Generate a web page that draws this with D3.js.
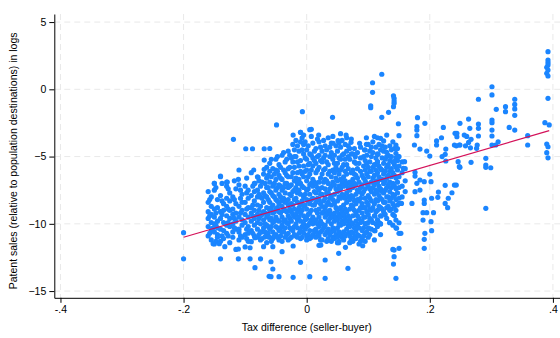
<!DOCTYPE html>
<html>
<head>
<meta charset="utf-8">
<script src="https://cdn.jsdelivr.net/npm/d3@7"></script>
<style>
  html, body { margin: 0; padding: 0; background: #ffffff; }
  svg { display: block; font-family: "Liberation Sans", Arial, sans-serif; }
</style>
</head>
<body>
<svg id="chart" width="560" height="338"></svg>
<script>
// Axis ticks
const xTicks = [-0.4, -0.2, 0, 0.2, 0.4];
const xTickLabels = ["-.4", "-.2", "0", ".2", ".4"];
const yTicks = [-15, -10, -5, 0, 5];

// Linear fit of log patent sales on tax difference
const fitIntercept = -8.33;
const fitSlope = 13.34;

// Dense core: tax difference, then log patent sales observed at that difference
const coreColumns = [
  [-0.160, [-7.6, -8.4, -9.1, -9.6, -10.2, -10.9]],
  [-0.1575, [-8.2, -9.4, -10.7]],
  [-0.155, [-8.0, -8.7, -9.3, -9.9, -10.5, -11.2]],
  [-0.150, [-7.0, -7.5, -8.9, -9.5, -10.0, -10.6, -11.5]],
  [-0.1475, [-7.3, -9.2, -10.1, -11.3]],
  [-0.145, [-8.2, -8.8, -9.8, -10.3, -10.8, -11.0]],
  [-0.140, [-6.5, -7.9, -9.1, -9.6, -10.4, -11.3]],
  [-0.1375, [-7.0, -8.3, -9.3, -10.9]],
  [-0.135, [-8.5, -9.0, -9.9, -10.5, -11.1]],
  [-0.130, [-6.9, -7.2, -8.1, -8.7, -9.4, -10.1, -10.7]],
  [-0.1275, [-7.4, -8.9, -9.9, -10.9]],
  [-0.125, [-7.7, -8.3, -9.0, -9.6, -10.2, -11.4]],
  [-0.120, [-8.0, -8.9, -9.3, -10.0, -10.6, -11.0]],
  [-0.1175, [-6.8, -8.2, -9.6, -10.3]],
  [-0.115, [-7.4, -8.5, -9.2, -9.8, -10.4, -11.9]],
  [-0.110, [-7.1, -8.7, -9.5, -10.4, -10.6, -11.2]],
  [-0.1075, [-7.5, -8.1, -9.2, -10.9]],
  [-0.105, [-7.8, -8.4, -9.0, -9.7, -10.1, -11.0]],
  [-0.100, [-7.2, -8.4, -9.3, -9.9, -10.8]],
  [-0.0975, [-6.6, -7.7, -8.9, -10.4, -11.1]],
  [-0.095, [-7.5, -8.1, -8.8, -9.5, -10.2, -10.7, -11.3]],
  [-0.090, [-6.2, -7.9, -8.8, -9.2, -9.8, -10.5]],
  [-0.0875, [-7.2, -8.6, -9.4, -10.7]],
  [-0.085, [-7.0, -7.6, -8.3, -9.0, -9.6, -10.1, -10.9]],
  [-0.080, [-6.5, -7.5, -8.0, -8.6, -9.3, -9.9, -10.4, -11.0]],
  [-0.0775, [-6.8, -7.8, -9.0, -9.6, -10.8]],
  [-0.075, [-7.2, -8.0, -8.7, -9.4, -10.0, -10.6, -11.2]],
  [-0.0725, [-6.9, -8.1, -9.3, -10.6, -11.1]],
  [-0.070, [-6.3, -7.7, -8.4, -9.1, -9.7, -10.3]],
  [-0.0675, [-7.0, -7.9, -9.2, -10.0, -10.6]],
  [-0.065, [-5.8, -6.6, -7.3, -8.0, -8.8, -9.5, -10.1, -10.8, -11.4]],
  [-0.0625, [-6.4, -7.3, -8.2, -9.3, -10.2, -10.7]],
  [-0.060, [-5.5, -6.1, -6.9, -7.6, -8.4, -9.0, -9.7, -10.4, -11.0]],
  [-0.0575, [-5.2, -6.5, -7.7, -8.8, -9.6, -10.2, -11.3]],
  [-0.055, [-5.9, -7.2, -7.9, -8.6, -9.2, -9.9, -10.6, -11.1]],
  [-0.0525, [-6.3, -7.0, -8.0, -9.1, -9.8, -10.9]],
  [-0.050, [-5.2, -6.0, -6.7, -7.5, -8.2, -8.9, -9.5, -10.2, -10.8]],
  [-0.0475, [-5.0, -6.1, -7.3, -8.3, -8.8, -9.7, -10.3, -11.0]],
  [-0.045, [-5.6, -6.4, -7.1, -7.8, -8.5, -9.1, -9.8, -10.5, -11.2]],
  [-0.0425, [-5.8, -6.6, -7.2, -8.0, -9.2, -10.3, -10.9]],
  [-0.040, [-4.9, -6.7, -7.5, -8.3, -8.7, -9.5, -10.1, -10.6, -11.3]],
  [-0.0375, [-4.7, -6.0, -7.3, -8.1, -9.0, -9.8, -10.6]],
  [-0.035, [-5.4, -6.2, -7.0, -7.7, -8.4, -9.0, -9.7, -10.3, -11.0]],
  [-0.0325, [-5.2, -6.4, -7.0, -8.3, -9.1, -9.9, -10.8]],
  [-0.030, [-4.6, -5.9, -6.5, -7.3, -8.2, -8.6, -9.4, -10.0, -10.7, -11.2]],
  [-0.0275, [-4.9, -5.8, -7.2, -7.8, -8.9, -9.6, -10.3, -11.1]],
  [-0.025, [-5.1, -6.5, -7.1, -7.9, -8.5, -9.1, -9.8, -10.4, -11.0]],
  [-0.0225, [-4.1, -5.4, -6.2, -7.6, -8.6, -9.3, -10.5]],
  [-0.020, [-4.5, -5.0, -5.8, -6.8, -7.5, -8.2, -8.9, -9.5, -10.2, -10.8]],
  [-0.0175, [-3.8, -5.0, -6.6, -7.3, -8.1, -9.3, -10.0, -10.9]],
  [-0.015, [-4.2, -5.4, -6.2, -7.0, -7.7, -8.4, -9.0, -9.7, -10.3, -11.0]],
  [-0.0125, [-4.6, -5.7, -6.7, -7.5, -8.8, -9.5, -10.7]],
  [-0.010, [-3.2, -3.9, -5.3, -6.1, -7.0, -7.8, -8.5, -9.2, -9.8, -10.5, -11.1]],
  [-0.0075, [-3.6, -4.5, -6.3, -7.2, -8.3, -9.0, -10.2, -11.0]],
  [-0.005, [-3.4, -4.1, -4.8, -5.7, -6.5, -7.3, -8.0, -8.7, -9.4, -10.0, -10.7]],
  [-0.0025, [-3.9, -5.1, -6.1, -7.8, -8.6, -9.7, -10.4]],
  [0.000, [-4.5, -5.2, -6.0, -6.8, -7.5, -8.2, -8.9, -9.6, -10.2, -10.9, -11.2]],
  [0.0025, [-4.2, -5.6, -6.5, -7.4, -8.3, -9.3, -10.1, -10.8]],
  [0.005, [-4.8, -5.5, -6.3, -7.1, -7.8, -8.5, -9.2, -9.9, -10.5, -11.1]],
  [0.0075, [-3.5, -4.9, -6.0, -7.0, -8.2, -9.0, -9.7, -11.0]],
  [0.010, [-4.0, -5.1, -5.7, -6.7, -7.2, -8.1, -8.6, -9.5, -10.0, -10.8]],
  [0.0125, [-4.6, -5.3, -6.9, -7.6, -8.6, -9.8, -10.5]],
  [0.015, [-4.4, -5.5, -6.2, -7.0, -7.7, -8.4, -9.0, -9.7, -10.4, -11.0]],
  [0.0175, [-3.7, -5.0, -6.0, -7.3, -8.1, -9.2, -10.0, -10.7]],
  [0.020, [-3.9, -4.9, -5.8, -6.9, -7.5, -8.2, -8.9, -9.5, -10.2, -10.9]],
  [0.0225, [-4.3, -5.3, -6.6, -7.8, -8.5, -9.8, -10.6, -11.2]],
  [0.025, [-4.6, -5.4, -6.3, -7.3, -7.8, -8.7, -9.2, -10.0, -10.5, -11.2]],
  [0.0275, [-3.8, -5.1, -6.0, -6.9, -8.3, -9.1, -10.3]],
  [0.030, [-4.2, -4.9, -5.9, -6.7, -7.4, -8.1, -8.8, -9.5, -10.1, -10.8]],
  [0.0325, [-4.5, -5.4, -6.8, -7.7, -8.6, -9.3, -10.6, -11.3]],
  [0.035, [-3.6, -5.6, -6.3, -7.0, -7.7, -8.4, -9.1, -9.8, -10.4, -11.1]],
  [0.0375, [-4.3, -5.0, -6.1, -7.4, -8.1, -9.0, -9.6, -10.8]],
  [0.040, [-4.0, -4.7, -6.5, -7.2, -7.9, -8.6, -9.3, -10.0, -10.6, -11.3]],
  [0.0425, [-3.5, -5.2, -6.0, -6.9, -8.2, -9.5, -10.3, -11.0]],
  [0.045, [-4.9, -5.5, -6.2, -7.1, -7.8, -8.5, -9.2, -9.8, -10.5, -11.1]],
  [0.0475, [-4.2, -5.8, -6.6, -7.4, -8.8, -9.5, -10.8]],
  [0.050, [-4.6, -5.5, -6.0, -6.8, -7.6, -8.3, -9.0, -9.7, -10.3, -11.0]],
  [0.0525, [-4.0, -5.1, -6.3, -7.2, -8.0, -9.3, -10.0, -10.6, -11.3]],
  [0.055, [-3.3, -4.3, -5.2, -6.0, -6.7, -7.4, -8.1, -8.8, -9.5, -10.1, -10.8]],
  [0.0575, [-3.8, -4.9, -5.8, -7.0, -7.8, -9.1, -9.8, -11.0]],
  [0.060, [-4.8, -5.6, -6.5, -7.2, -7.9, -8.6, -9.3, -10.0, -10.6, -11.2]],
  [0.0625, [-4.1, -5.2, -6.1, -6.8, -8.1, -8.9, -9.6, -10.9]],
  [0.065, [-3.6, -4.6, -5.6, -6.3, -7.0, -7.7, -8.4, -9.1, -9.8, -10.4]],
  [0.0675, [-4.2, -5.0, -5.9, -7.3, -8.0, -9.4, -10.1, -10.7]],
  [0.070, [-4.4, -5.2, -6.9, -7.5, -8.2, -8.9, -9.6, -10.2, -10.9, -11.4]],
  [0.0725, [-3.7, -4.8, -6.2, -7.1, -7.9, -8.6, -9.9, -10.6, -11.2]],
  [0.075, [-4.8, -6.0, -6.7, -7.3, -8.0, -8.7, -9.4, -10.0, -10.7, -11.3]],
  [0.0775, [-4.4, -5.4, -6.3, -7.0, -8.3, -9.0, -10.3, -11.0]],
  [0.080, [-5.5, -6.4, -7.1, -7.8, -8.5, -9.2, -9.8, -10.5, -11.1]],
  [0.0825, [-4.7, -5.9, -6.6, -7.5, -8.2, -9.4, -10.1, -10.8]],
  [0.085, [-5.5, -6.9, -7.6, -8.3, -9.0, -9.6, -10.3, -10.9, -11.5]],
  [0.0875, [-4.3, -5.1, -6.1, -7.3, -8.1, -8.8, -9.9, -11.3]],
  [0.090, [-6.4, -7.1, -7.8, -8.5, -9.2, -9.8, -10.5, -11.1]],
  [0.0925, [-5.0, -5.7, -6.6, -7.6, -8.8, -9.5, -10.3, -10.9]],
  [0.095, [-4.5, -5.3, -6.0, -6.8, -7.4, -8.1, -8.8, -9.5, -10.0, -10.7, -11.3]],
  [0.0975, [-4.9, -5.5, -6.3, -7.0, -8.4, -9.1, -10.6]],
  [0.100, [-4.1, -5.8, -6.5, -7.2, -7.9, -8.6, -9.3, -9.9, -10.3, -11.0]],
  [0.1025, [-4.6, -5.4, -6.1, -7.4, -8.1, -8.9, -9.6, -10.8]],
  [0.105, [-4.3, -5.0, -6.1, -6.9, -7.6, -8.3, -9.0, -9.7, -10.4]],
  [0.1075, [-3.9, -4.7, -5.8, -6.6, -7.3, -8.8, -9.9]],
  [0.110, [-3.5, -5.6, -6.4, -7.1, -7.8, -8.5, -9.4, -10.5, -11.2]],
  [0.1125, [-4.3, -5.1, -6.0, -6.8, -7.5, -8.2, -9.1, -10.0]],
  [0.115, [-3.6, -4.8, -5.4, -6.2, -6.9, -7.6, -8.3, -9.0, -9.7, -10.2]],
  [0.1175, [-4.1, -5.7, -6.5, -7.2, -7.9, -8.7, -9.9]],
  [0.120, [-4.5, -5.9, -6.7, -7.4, -8.1, -8.8, -9.4, -10.0, -10.8]],
  [0.1225, [-4.2, -5.1, -6.0, -6.7, -7.6, -8.2, -8.9]],
  [0.125, [-3.84, -4.6, -5.5, -6.3, -7.0, -7.7, -8.4, -9.1]],
  [0.1275, [-4.3, -5.2, -6.1, -6.8, -7.5, -8.4, -9.3]],
  [0.130, [-3.4, -4.68, -5.0, -5.8, -6.6, -7.3, -8.0, -8.8, -9.6]],
  [0.1325, [-4.9, -5.6, -6.4, -7.1, -8.0, -8.7]],
  [0.135, [-4.2, -5.3, -6.1, -6.9, -7.6, -8.3, -9.0, -9.9]],
  [0.1375, [-4.5, -5.0, -5.9, -6.5, -7.3, -8.1, -8.9]],
  [0.140, [-3.9, -5.4, -6.2, -7.0, -7.8, -8.5, -9.3, -10.1]],
  [0.1425, [-4.4, -5.6, -6.4, -7.2, -7.9, -8.7, -9.4]],
  [0.145, [-4.14, -5.1, -5.8, -6.6, -7.4, -8.2, -9.0, -9.72, -10.3]],
  [0.1475, [-4.4, -5.3, -6.0, -6.9, -7.7, -8.6]],
  [0.150, [-3.45, -5.0, -5.7, -6.5, -7.3, -8.1, -8.48, -9.92, -10.71, -11.82]],
  [0.155, [-5.4, -6.2, -7.2, -8.0]],
  [0.160, [-5.9, -6.8, -7.6]]
];

// Scattered observations above the core
const upperPoints = [
  [-0.119, -3.72], [-0.099, -4.42], [-0.088, -4.42], [-0.069, -4.42], [-0.069, -5.26],
  [-0.069, -5.95], [-0.110, -6.0], [-0.086, -6.0], [-0.140, -6.45], [-0.111, -6.69],
  [-0.129, -6.89], [-0.150, -6.99], [-0.079, -6.54], [-0.084, -6.99], [-0.060, -4.4],
  [-0.049, -2.65], [-0.007, -1.66], [0.042, -2.08], [-0.022, -3.4], [0.0075, -2.97],
  [0.0195, -3.4], [0.064, -3.4], [0.051, -3.82], [0.043, -4.01], [0.072, -3.94],
  [0.086, -4.01], [0.094, -4.51], [0.079, -5.01], [-0.010, -3.2], [0.005, -3.0],
  [0.122, 1.12], [0.107, 0.49], [0.107, -0.22], [0.104, -1.22], [0.104, -1.37],
  [0.141, -0.48], [0.142, -0.67], [0.142, -0.87], [0.142, -1.04], [0.141, -1.29],
  [0.133, -1.71], [0.122, -2.08], [0.149, -2.56], [0.097, -3.6], [0.097, -4.09],
  [0.116, -4.83], [0.145, -4.76], [0.149, -5.01], [0.142, -5.38], [0.159, -5.38],
  [0.157, -5.87], [0.115, -5.38], [0.111, -5.63], [0.176, -6.17], [0.120, -3.64]
];

// Scattered observations below the core
const lowerPoints = [
  [-0.200, -10.66], [-0.200, -12.6], [-0.153, -10.33], [-0.152, -11.48], [-0.142, -11.48],
  [-0.133, -11.7], [-0.140, -12.6], [-0.111, -12.6], [-0.092, -12.6], [-0.075, -12.6],
  [-0.084, -13.26], [-0.061, -13.9], [-0.111, -11.87], [-0.100, -11.72], [-0.092, -11.78],
  [-0.090, -11.33], [-0.070, -11.7], [-0.084, -11.03], [-0.068, -10.98], [-0.062, -10.98],
  [-0.058, -12.82], [-0.055, -13.36], [-0.058, -13.93], [-0.045, -13.93], [-0.022, -13.98],
  [-0.010, -12.86], [0.005, -13.93], [0.030, -14.05], [0.030, -12.69], [0.052, -12.19],
  [0.067, -13.31], [0.063, -11.75], [0.052, -11.4], [0.023, -11.58], [0.091, -11.63],
  [-0.055, -11.7], [-0.040, -12.07], [-0.022, -11.65], [0.020, -11.6], [0.050, -11.4],
  [0.153, -10.71], [0.146, -10.33], [0.135, -9.92], [0.120, -10.01], [0.111, -10.51],
  [0.101, -10.33], [0.142, -11.95], [0.142, -12.44], [0.141, -12.99], [0.145, -14.05],
  [0.121, -9.42], [0.111, -9.42], [0.097, -9.96], [0.140, -11.9]
];

// Observations with large tax differences
const rightPoints = [
  [0.180, -2.11], [0.179, -2.78], [0.179, -3.03], [0.179, -3.45], [0.192, -2.53],
  [0.222, -2.83], [0.175, -4.14], [0.184, -4.44], [0.195, -4.59], [0.200, -4.96],
  [0.211, -3.84], [0.211, -4.14], [0.219, -3.6], [0.226, -4.44], [0.225, -4.83],
  [0.220, -5.0], [0.241, -3.27], [0.244, -3.52], [0.240, -4.14], [0.248, -4.14],
  [0.226, -5.33], [0.246, -5.38], [0.248, -5.75],
  [0.200, -6.3], [0.176, -6.45], [0.184, -6.74], [0.191, -6.87], [0.202, -6.87],
  [0.179, -6.99], [0.176, -7.61], [0.184, -7.49], [0.225, -7.14], [0.240, -7.12],
  [0.214, -7.64], [0.236, -7.69], [0.213, -8.03], [0.230, -8.1], [0.225, -8.48],
  [0.229, -8.8], [0.203, -8.1], [0.191, -8.23], [0.191, -8.48], [0.171, -8.48],
  [0.154, -8.48], [0.189, -9.17], [0.195, -9.17], [0.206, -9.17], [0.189, -9.72],
  [0.202, -9.84], [0.203, -10.51], [0.192, -10.71], [0.191, -11.15], [0.191, -11.82],
  [0.392, 2.8], [0.392, 2.18], [0.392, 1.98], [0.392, 1.81], [0.390, 1.64],
  [0.392, 1.43], [0.390, 1.19], [0.392, 0.99], [0.392, -0.67], [0.387, -2.48],
  [0.394, -2.65], [0.390, -4.07], [0.392, -4.27], [0.390, -4.71], [0.392, -5.09],
  [0.301, 0.19], [0.301, -0.42], [0.301, -2.28], [0.301, -2.48], [0.301, -3.03],
  [0.301, -3.47], [0.301, -4.14], [0.338, -0.74], [0.338, -1.12], [0.338, -1.46],
  [0.338, -1.93], [0.338, -3.03], [0.323, -1.29], [0.323, -1.66], [0.308, -1.49],
  [0.329, -2.83], [0.279, -0.74], [0.279, -2.58], [0.279, -2.9], [0.279, -3.47],
  [0.277, -4.14], [0.276, -4.39], [0.263, -2.21], [0.265, -2.9], [0.267, -3.72],
  [0.260, -3.5], [0.263, -3.95], [0.258, -4.2], [0.266, -4.35], [0.249, -2.53],
  [0.244, -3.27], [0.249, -4.14], [0.243, -4.2], [0.256, -3.4], [0.291, -5.13],
  [0.291, -5.63], [0.291, -5.8], [0.299, -5.83], [0.249, -5.8], [0.267, -5.43],
  [0.243, -7.12], [0.359, -3.45], [0.359, -4.14], [0.311, -3.9], [0.307, -4.14],
  [0.291, -8.85]
];

const points = [];
coreColumns.forEach(([tax, sales]) => sales.forEach(s => points.push([tax, s])));
[upperPoints, lowerPoints, rightPoints].forEach(group => group.forEach(p => points.push(p)));

const svg = d3.select("#chart");

const x = d3.scaleLinear().domain([-0.41, 0.412]).range([54.3, 560.3]);
const y = d3.scaleLinear().domain([-15.5, 5.6]).range([297.8, 14.0]);

const markColor = "#1a85ff";
const fitColor = "#d41159";
const gridColor = "#e9e9e9";

// Dashed grid at every major tick
const grid = svg.append("g");
grid.selectAll("line.gx").data(xTicks).join("line")
  .attr("x1", d => x(d)).attr("x2", d => x(d))
  .attr("y1", y.range()[1]).attr("y2", y.range()[0])
  .attr("stroke", gridColor).attr("stroke-width", 1).attr("stroke-dasharray", "6,4");
grid.selectAll("line.gy").data(yTicks).join("line")
  .attr("y1", d => y(d)).attr("y2", d => y(d))
  .attr("x1", x.range()[0]).attr("x2", x.range()[1])
  .attr("stroke", gridColor).attr("stroke-width", 1).attr("stroke-dasharray", "6,4");

// Scatter
svg.append("g").selectAll("circle").data(points).join("circle")
  .attr("cx", d => x(d[0]))
  .attr("cy", d => y(d[1]))
  .attr("r", 2.6)
  .attr("fill", markColor);

// Fitted line across the observed range of tax differences
const xExtent = d3.extent(points, d => d[0]);
svg.append("line")
  .attr("x1", x(xExtent[0])).attr("y1", y(fitIntercept + fitSlope * xExtent[0]))
  .attr("x2", x(xExtent[1])).attr("y2", y(fitIntercept + fitSlope * xExtent[1]))
  .attr("stroke", fitColor).attr("stroke-width", 1.2);

// Axes
const xAxis = d3.axisBottom(x).tickValues(xTicks)
  .tickFormat((d, i) => xTickLabels[i]).tickSize(5).tickPadding(3).tickSizeOuter(0);
const yAxis = d3.axisLeft(y).tickValues(yTicks)
  .tickFormat(d3.format("d")).tickSize(5).tickPadding(3).tickSizeOuter(0);

const gx = svg.append("g").attr("transform", `translate(0,${y.range()[0]})`).call(xAxis);
const gy = svg.append("g").attr("transform", `translate(${x.range()[0]},0)`).call(yAxis);
[gx, gy].forEach(g => {
  g.select(".domain").attr("stroke", "#000").attr("stroke-width", 1);
  g.selectAll(".tick line").attr("stroke", "#000");
  g.selectAll(".tick text").attr("fill", "#000")
    .style("font-size", "10.5px").style("font-family", "'Liberation Sans', Arial, sans-serif");
});

// Axis titles
svg.append("text")
  .attr("x", x(0)).attr("y", 331)
  .attr("text-anchor", "middle")
  .style("font-size", "10.5px").attr("fill", "#000")
  .text("Tax difference (seller-buyer)");

svg.append("text")
  .attr("transform", `translate(17,${(y.range()[0] + y.range()[1]) / 2 + 5}) rotate(-90)`)
  .attr("text-anchor", "middle")
  .style("font-size", "10.5px").attr("fill", "#000")
  .text("Patent sales (relative to population destinations) in logs");
</script>
</body>
</html>
